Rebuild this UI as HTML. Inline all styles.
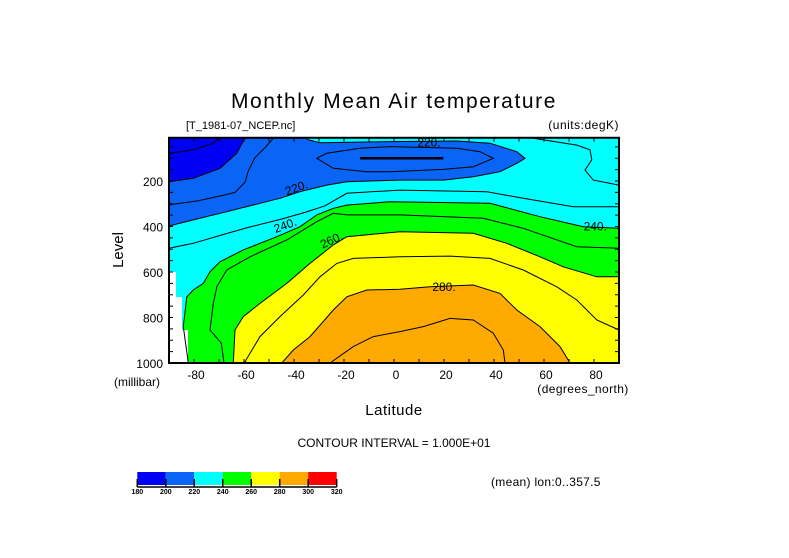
<!DOCTYPE html>
<html><head><meta charset="utf-8"><style>
html,body{margin:0;padding:0;background:#fff;}
svg{display:block;font-family:"Liberation Sans",sans-serif;}
</style></head><body>
<svg id="chart" width="789" height="558" viewBox="0 0 789 558" xmlns="http://www.w3.org/2000/svg">
<rect width="789" height="558" fill="#fff"/>
<text x="394" y="108" font-size="21" letter-spacing="1.6" text-anchor="middle" fill="#000">Monthly Mean Air temperature</text>
<text x="186" y="129" font-size="11" fill="#000">[T_1981-07_NCEP.nc]</text>
<text x="619" y="129" font-size="12" letter-spacing="0.5" text-anchor="end" fill="#000">(units:degK)</text>
<g id="plot"></g>
<g id="axes"></g>
<text x="0" y="0" font-size="15" text-anchor="middle" transform="translate(123,250) rotate(-90)">Level</text>
<text x="137" y="386" font-size="12" text-anchor="middle">(millibar)</text>
<text x="583" y="393" font-size="12" letter-spacing="0.4" text-anchor="middle">(degrees_north)</text>
<text x="394" y="415" font-size="15" letter-spacing="0.5" text-anchor="middle">Latitude</text>
<text x="394" y="447" font-size="12" text-anchor="middle">CONTOUR INTERVAL = 1.000E+01</text>
<text x="491" y="486" font-size="12" letter-spacing="0.3">(mean) lon:0..357.5</text>
<g id="cbar"></g>
</svg>
<script>
// color levels
const levels = [180,200,220,240,260,280,300,320];
const colors = ["#0000f5","#0a64f5","#00ffff","#00ff00","#ffff00","#ffaa00","#ff0000"];
// contour boundaries (lat, pressure)
const c200Lat = [-59.6,-62.9,-69.6,-80.3,-90];
const c200P   = [10,78,144,188,203];
const c220Lat = [-34.9,-34.9,-29.6,-1.6,25.1,38.4,49.1,52.4,49.1,42.4,31.7,19.7,2.4,-18.9,-26.9,-37.6,-45.6,-53.6,-66.9,-80.3,-90];
const c220P   = [10,17,32,27,24,34,71,100,122,159,181,196,196,203,218,247,276,298,335,371,398];
const c240Lat = [90,75.7,58.4,38.4,-1.6,-18.9,-24.3,-30.9,-37.6,-46.9,-60.3,-69.6,-73.6,-76.3,-80.3,-82.9,-84.3,-82.3];
const c240P   = [408,401,357,298,291,306,320,349,401,445,503,555,599,650,679,709,840,1000];
const c260Lat = [-64.3,-63.6,-60.3,-53.6,-42.9,-33.6,-24.3,-18.9,2.4,31.7,45.1,58.4,67.7,81.1,90];
const c260P   = [1000,855,796,738,650,562,481,445,423,430,474,533,577,621,621];
const c280Lat = [-44.9,-40.3,-33.6,-24.3,-18.9,-10.9,2.4,14.4,31.7,42.4,49.1,58.4,66.4,70.4];
const c280P   = [1000,943,884,767,709,679,676,665,657,694,767,840,928,1000];
// interior contour lines
const c190Lat = [-89.6,-80.3,-72.3,-70.9,-70.6];
const c190P   = [78,63,34,20,10];
const c210Lat = [-90,-78.3,-67.6,-63.6,-59.6,-58.3,-55.6,-51.6,-48.9,-48];
const c210P   = [305,287,261,250,206,155,97,53,20,10];
const c210bLat = [-1.6,19.7,31.7,39.7,34.4,25.1,-1.6,-13.6,-26.9,-30.9,-24.3,-10.9,-1.6];
const c210bP   = [159,149,137,100,71,56,49,56,78,100,144,159,159];
const c230Lat = [-90,-80.3,-67.6,-58.3,-44.9,-35.6,-27.6,-18.9,2.4,37.1,51.7,71.7,90];
const c230P   = [496,474,433,404,367,338,309,254,240,247,276,313,313];
const c230bLat = [54.4,73.1,78.4,79.1,76.4,79.7,90];
const c230bP   = [10,42,63,107,152,196,218];
const c250Lat = [-68,-69.1,-73.6,-72.3,-70.9,-66.9,-57.6,-42.9,-30.9,-24.3,-18.9,2.4,35.7,51.7,73.1,90];
const c250P   = [1000,913,855,738,665,591,533,459,379,342,349,349,364,408,489,496];
const c270Lat = [-59,-59.6,-53.6,-45.6,-36.3,-29.6,-22.9,-16.3,2.4,22.4,38.4,51.7,65.1,73.1,81.1,90];
const c270P   = [1000,994,884,796,701,621,562,540,533,530,540,591,665,723,811,855];
const c290Lat = [-25.6,-16.3,-8.3,2.4,11.7,22.4,31.7,39.7,43.7,44.4];
const c290P   = [1000,928,884,862,840,804,811,869,943,1000];
// 200 K streak
const streakLat = [-13.6,19.7];
const streakP = [100,100];
// missing-data (below ground) mask
const maskLat = [-90,-87.2,-87.2,-84.8,-84.8,-82.4,-82.4,-90];
const maskP   = [600,600,710,710,855,855,1000,1000];
// contour labels
const labelText = ["220.","240.","260.","280.","240.","220."];
const labelLat = [-39,-43.5,-25,20,80.5,14];
const labelP = [230,395,460,665,400,30];
const labelRot = [-20,-20,-25,0,0,0];
// axis ticks
const xTicks = [-80,-60,-40,-20,0,20,40,60,80];
const yTicks = [200,400,600,800,1000];
const cbarLabels = ["180","200","220","240","260","280","300","320"];

const X0=394, XS=2.5, YB=363, YS=0.2275;
const xs = lat => X0 + lat*XS;
const ys = p => YB - (1000-p)*YS;
const NS="http://www.w3.org/2000/svg";
const plot=document.getElementById('plot');
const axes=document.getElementById('axes');
function mk(tag, attrs, parent){const e=document.createElementNS(NS,tag);for(const k in attrs)e.setAttribute(k,attrs[k]);parent.appendChild(e);return e;}
function pts(la,pa){return la.map((l,i)=>xs(l).toFixed(1)+','+ys(pa[i]).toFixed(1));}
const L=xs(-90),R=xs(90),T=ys(10),B=ys(1000);

let el=mk('rect',{x:L,y:T,width:R-L,height:B-T,fill:colors[2]},plot);


el=mk('polygon',{points:[...pts(c220Lat,c220P),xs(-90)+','+ys(10)].join(' '),fill:colors[1]},plot);


el=mk('polygon',{points:[...pts(c200Lat,c200P),xs(-90)+','+ys(10)].join(' '),fill:colors[0]},plot);


el=mk('polygon',{points:[...pts(c240Lat,c240P),xs(90)+','+ys(1000)].join(' '),fill:colors[3]},plot);


el=mk('polygon',{points:[...pts(c260Lat,c260P),xs(90)+','+ys(1000)].join(' '),fill:colors[4]},plot);


el=mk('polygon',{points:pts(c280Lat,c280P).join(' '),fill:colors[5]},plot);


el=mk('polygon',{points:pts(maskLat,maskP).join(' '),fill:'#fff'},plot);



const lines=[[c190Lat,c190P,'190'],[c200Lat,c200P,'200'],[c210Lat,c210P,'210'],[c210bLat,c210bP,'210b'],[c220Lat.slice(1),c220P.slice(1),'220'],[c230Lat,c230P,'230'],[c230bLat,c230bP,'230b'],[c240Lat,c240P,'240'],[c250Lat,c250P,'250'],[c260Lat,c260P,'260'],[c270Lat,c270P,'270'],[c280Lat,c280P,'280'],[c290Lat,c290P,'290']];
lines.forEach(d=>{
  const e=mk('polyline',{points:pts(d[0],d[1]).join(' '),fill:'none',stroke:'#000','stroke-width':1},plot);
  
  
});
el=mk('polyline',{points:pts(streakLat,streakP).join(' '),fill:'none',stroke:'#000','stroke-width':2.5},plot);



labelText.forEach((t,i)=>{
  const x=xs(labelLat[i]),y=ys(labelP[i]);
  const e=mk('text',{x:x,y:y+4,'font-size':12,'text-anchor':'middle',transform:`rotate(${labelRot[i]} ${x} ${y})`},plot);
  e.textContent=t;
  
  
});

el=mk('rect',{x:L,y:T,width:R-L,height:B-T,fill:'none',stroke:'#000','stroke-width':2},axes);


for(let lat=-90;lat<=90;lat+=10){
  const e=mk('path',{d:`M${xs(lat)},${B}v-4M${xs(lat)},${T}v4`,stroke:'#000','stroke-width':1},axes);
  
  
}
for(let p=50;p<=1000;p+=50){
  const e=mk('path',{d:`M${L},${ys(p)}h4M${R},${ys(p)}h-4`,stroke:'#000','stroke-width':1},axes);
  
  
}
xTicks.forEach(v=>{
  const e=mk('text',{x:xs(v)+2,y:379,'font-size':12,'text-anchor':'middle'},axes);
  e.textContent=String(v);
  
  
});
yTicks.forEach(v=>{
  const e=mk('text',{x:163,y:ys(v)+5,'font-size':12,'text-anchor':'end'},axes);
  e.textContent=String(v);
  
  
});

const cb=document.getElementById('cbar');
const cbX=137.3, cbW=(336.7-137.3)/colors.length;
colors.forEach((c,i)=>{
  const e=mk('rect',{x:cbX+i*cbW,y:472,width:cbW,height:13,fill:c},cb);
  
  
});
cbarLabels.forEach((t,i)=>{
  const x=cbX+i*cbW;
  const tk=mk('path',{d:`M${x},${479}V${487}`,stroke:'#000','stroke-width':1.5},cb);
  
  
  const e=mk('text',{x:x,y:494,'font-size':7,'font-weight':'bold','text-anchor':'middle'},cb);
  e.textContent=t;
  
  
});
el=mk('path',{d:`M${cbX},487H336.7`,stroke:'#000','stroke-width':1.5},cb);


</script>
</body></html>
